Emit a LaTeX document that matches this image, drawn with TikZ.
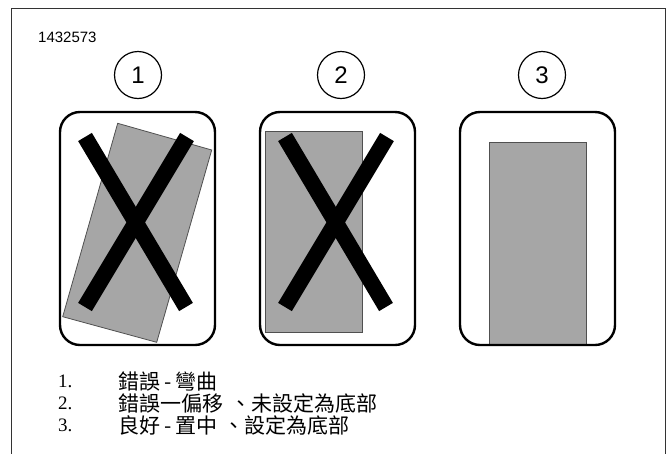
\documentclass[tikz,border=0pt]{standalone}
\usepackage{fontspec}
\setmainfont{Liberation Serif}
\newfontfamily\arial{Liberation Sans}
\newfontfamily\cjk{Noto Sans CJK TC}[Scale=1.0]
\definecolor{plate}{HTML}{A6A6A6}
\definecolor{plateedge}{HTML}{505050}
\newcommand{\dsh}{\hspace{4pt}-\hspace{4pt}}
\begin{document}
\begin{tikzpicture}[x=1pt,y=-1pt,
  frame/.style={draw=black!80,line width=1pt},
  callout/.style={draw=black,line width=1.2pt,circle,minimum size=47pt,inner sep=0pt,font=\arial\fontsize{24}{24}\selectfont},
  holder/.style={draw=black,line width=2.4pt,rounded corners=20pt},
  plate/.style={fill=plate,draw=plateedge,line width=0.8pt},
  cross/.style={line width=16pt,black},
  num/.style={anchor=west,inner sep=0pt,font=\fontsize{19}{19}\selectfont},
  item/.style={anchor=west,inner sep=0pt,font=\cjk\fontsize{21}{21}\selectfont},
  tag/.style={anchor=west,inner sep=0pt,font=\arial\fontsize{15}{15}\selectfont}]
\useasboundingbox (0,0) rectangle (671,453);
\draw[frame] (11.5,470) -- (11.5,8.5) -- (665,8.5) -- (665,470);
\node[tag] (tag) at (38,37) {1432573};
% callouts
\node[callout] (c1) at (138,75) {1};
\node[callout] (c2) at (341,75) {2};
\node[callout] (c3) at (542,75) {3};
% panel 1
\draw[plate] (117.7,123.3) -- (211.7,150) -- (156.7,342.3) -- (62.7,316.7) -- cycle;
\draw[cross] (85,137) -- (186,307);
\draw[cross] (187,137) -- (85,307);
\draw[holder] (60,112) rectangle (215,345);
% panel 2
\draw[plate] (265,131.7) rectangle (362.7,332.3);
\draw[cross] (285,137) -- (386,307);
\draw[cross] (387,137) -- (285,307);
\draw[holder] (260,112) rectangle (415,345);
% panel 3
\draw[plate] (489,142.3) rectangle (586.7,344);
\draw[holder] (460,112) rectangle (615,345);
% legend
\node[num] (n1) at (58,381) {1.};
\node[item] (t1) at (118,381) {錯誤\dsh 彎曲};
\node[num] (n2) at (58,403) {2.};
\node[item] (t2) at (118,403) {錯誤一偏移\hspace{7pt}、未設定為底部};
\node[num] (n3) at (58,425) {3.};
\node[item] (t3) at (118,425) {良好\dsh 置中\hspace{6pt}、設定為底部};
\end{tikzpicture}
\end{document}
